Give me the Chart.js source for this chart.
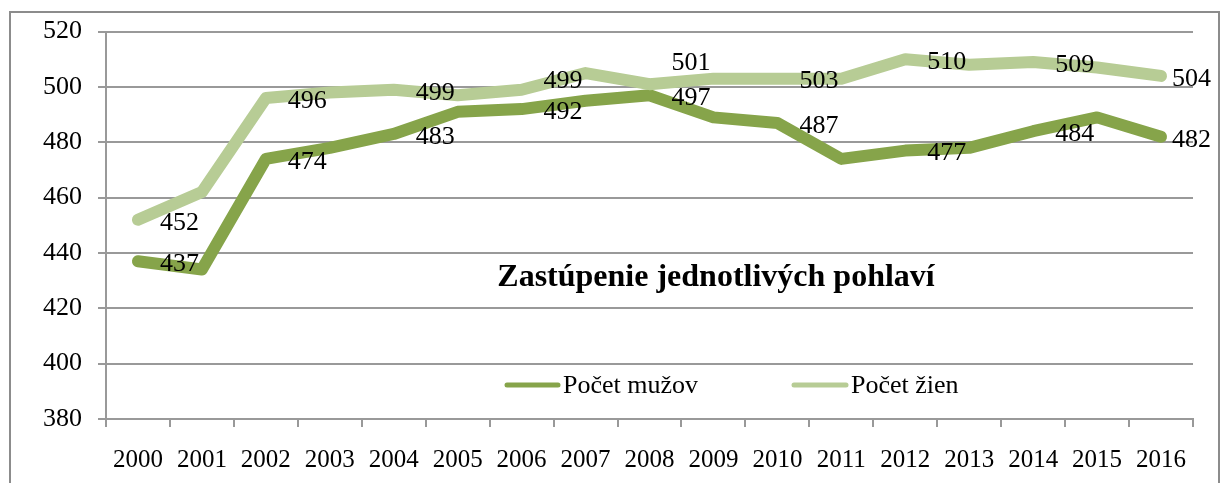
<!DOCTYPE html>
<html lang="sk">
<head>
    <meta charset="UTF-8">
    <title>Zastúpenie jednotlivých pohlaví</title>
    <script src="https://cdn.jsdelivr.net/npm/chart.js"></script>
    <style>
        html, body { margin: 0; padding: 0; background: #fff; overflow: hidden; }
        #frame { position: absolute; left: 9px; top: 11px; width: 1207px; height: 500px; border: 2px solid #8c8c8c; }
        #graf { position: absolute; left: 0; top: 0; }
    </style>
</head>
<body>
<div id="frame"></div>
<canvas id="graf" width="1220" height="483"></canvas>
<script>
    // data
    const roky = ['2000', '2001', '2002', '2003', '2004', '2005', '2006', '2007', '2008',
        '2009', '2010', '2011', '2012', '2013', '2014', '2015', '2016'];
    const pocetMuzov = [437, 434, 474, 478, 483, 491, 492, 495, 497, 489, 487, 474, 477, 478, 484, 489, 482];
    const pocetZien = [452, 462, 496, 498, 499, 497, 499, 505, 501, 503, 503, 503, 510, 508, 509, 507, 504];
    const yTicks = {min: 380, max: 520, step: 20};
    const nazov = 'Zastúpenie jednotlivých pohlaví';

    const farbaMuzi = '#86a44a';
    const farbaZeny = '#b7cc95';
    const pismo = '"Liberation Serif", "Times New Roman", serif';
    const siva = '#999999';

    // popisky hodnot (kazdy druhy rok), vpravo od bodu
    const popiskyPlugin = {
        id: 'popisky',
        afterDatasetsDraw(chart) {
            const ctx = chart.ctx;
            ctx.save();
            ctx.font = '26px ' + pismo;
            ctx.fillStyle = '#000';
            ctx.textAlign = 'left';
            ctx.textBaseline = 'middle';
            // posuny pre par popisiek, ktore su v originale vyssie
            const posunY = {'1-6': -12, '1-8': -24};
            chart.data.datasets.forEach((ds, di) => {
                const meta = chart.getDatasetMeta(di);
                meta.data.forEach((pt, i) => {
                    if (i % 2 !== 0) return;
                    const last = i === meta.data.length - 1;
                    const dx = last ? 11 : 22;
                    const dy = 3 + (posunY[di + '-' + i] || 0);
                    ctx.fillText(String(ds.data[i]), pt.x + dx, pt.y + dy);
                });
            });
            ctx.restore();
        },
        afterDraw(chart) {
            const ctx = chart.ctx;
            ctx.save();
            // nadpis vo vnutri grafu
            ctx.font = 'bold 32px ' + pismo;
            ctx.fillStyle = '#000';
            ctx.textAlign = 'center';
            ctx.textBaseline = 'middle';
            ctx.fillText(nazov, 716, 278);

            // legenda
            ctx.font = '26px ' + pismo;
            ctx.textAlign = 'left';
            ctx.lineCap = 'round';
            ctx.lineWidth = 5;
            const pol = [[505, 563], [792, 851]];
            chart.data.datasets.forEach((ds, di) => {
                const [x0, xt] = pol[di];
                ctx.strokeStyle = ds.borderColor;
                ctx.beginPath();
                ctx.moveTo(x0 + 2, 385);
                ctx.lineTo(xt - 5, 385);
                ctx.stroke();
                ctx.fillText(ds.label, xt, 386);
            });
            ctx.restore();
        }
    };

    const config = {
        type: 'line',
        data: {
            labels: roky,
            datasets: [
                {
                    label: 'Počet mužov',
                    data: pocetMuzov,
                    borderColor: farbaMuzi,
                    borderWidth: 12,
                    borderCapStyle: 'round',
                    borderJoinStyle: 'round',
                    tension: 0,
                    pointRadius: 0,
                    order: 1
                },
                {
                    label: 'Počet žien',
                    data: pocetZien,
                    borderColor: farbaZeny,
                    borderWidth: 12,
                    borderCapStyle: 'round',
                    borderJoinStyle: 'round',
                    tension: 0,
                    pointRadius: 0,
                    order: 0
                }
            ]
        },
        options: {
            responsive: false,
            animation: false,
            layout: {padding: {left: 10, right: 27, top: 28, bottom: 0}},
            plugins: {
                legend: {display: false},
                title: {display: false},
                tooltip: {enabled: false}
            },
            scales: {
                x: {
                    offset: true,
                    afterFit: s => { s.height = 64; },
                    grid: {
                        offset: true,
                        drawOnChartArea: false,
                        drawTicks: true,
                        tickLength: 8,
                        color: siva,
                        lineWidth: 2
                    },
                    border: {display: true, color: siva, width: 2},
                    ticks: {
                        font: {family: pismo, size: 25},
                        color: '#000',
                        padding: 18,
                        maxRotation: 0,
                        autoSkip: false
                    }
                },
                y: {
                    min: yTicks.min,
                    max: yTicks.max,
                    afterFit: s => { s.width = 96; },
                    grid: {
                        color: siva,
                        lineWidth: 2,
                        drawTicks: true,
                        tickLength: 8
                    },
                    border: {display: true, color: siva, width: 2},
                    ticks: {
                        stepSize: yTicks.step,
                        font: {family: pismo, size: 26},
                        color: '#000',
                        padding: 16
                    }
                }
            }
        },
        plugins: [popiskyPlugin]
    };

    new Chart(document.getElementById('graf').getContext('2d'), config);
</script>
</body>
</html>
